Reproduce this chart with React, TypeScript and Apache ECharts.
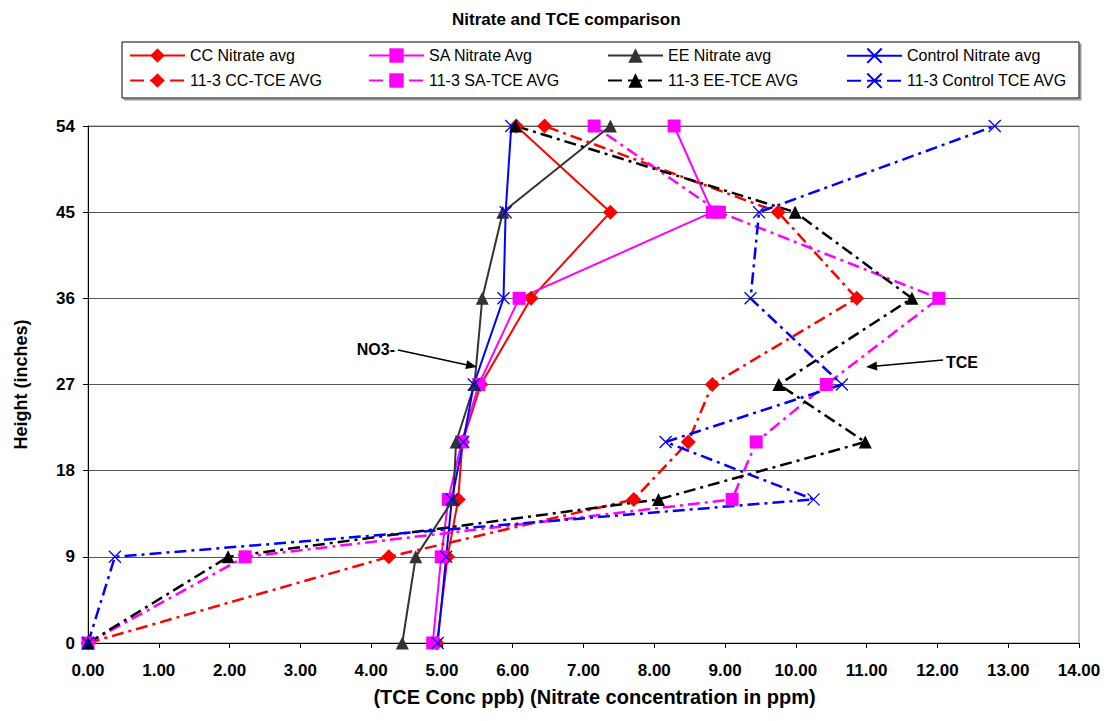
import React, { useEffect, useRef } from "react";
import * as echarts from "echarts";

// Heights (inches) at which every series was sampled
const heights = [0, 9, 15, 21, 27, 36, 45, 54];
const yTickStep = 9;
const xMin = 0;
const xMax = 14;
const yMax = 54;

// Nitrate (ppm)
const ccNitrate = [4.93, 5.08, 5.23, 5.29, 5.55, 6.26, 7.38, 6.05];
const saNitrate = [4.87, 4.99, 5.09, 5.28, 5.52, 6.09, 8.82, 8.28];
const eeNitrate = [4.44, 4.63, 5.16, 5.2, 5.46, 5.57, 5.86, 7.38];
const controlNitrate = [4.94, 5.06, 5.14, 5.3, 5.45, 5.87, 5.9, 5.98];

// TCE (ppb)
const ccTce = [0, 4.25, 7.71, 8.48, 8.82, 10.86, 9.75, 6.45];
const saTce = [0, 2.22, 9.1, 9.44, 10.43, 12.02, 8.92, 7.15];
const eeTce = [0, 1.98, 8.06, 10.98, 9.76, 11.64, 9.99, 6.04];
const controlTce = [0, 0.38, 10.25, 8.16, 10.65, 9.36, 9.48, 12.81];

const seriesNames = [
  "CC Nitrate avg",
  "SA Nitrate Avg",
  "EE Nitrate avg",
  "Control Nitrate avg",
  "11-3 CC-TCE AVG",
  "11-3 SA-TCE AVG",
  "11-3 EE-TCE AVG",
  "11-3 Control TCE AVG",
];

const FONT = "Arial, 'Liberation Sans', sans-serif";
const DASHDOT = [12, 5, 3, 5];
const X_MARK = "path://M0,0L10,10M10,0L0,10";

const pairs = (xs: number[]) => xs.map((x, i) => [x, heights[i]]);

const defs = [
  { values: ccNitrate, color: "#FF0000", symbol: "diamond", size: 15, dash: false },
  { values: saNitrate, color: "#FF00FF", symbol: "rect", size: 13, dash: false },
  { values: eeNitrate, color: "#333333", symbol: "triangle", size: 13, dash: false },
  { values: controlNitrate, color: "#0000FF", symbol: X_MARK, size: 12, dash: false },
  { values: ccTce, color: "#FF0000", symbol: "diamond", size: 15, dash: true },
  { values: saTce, color: "#FF00FF", symbol: "rect", size: 13, dash: true },
  { values: eeTce, color: "#000000", symbol: "triangle", size: 13, dash: true },
  { values: controlTce, color: "#0000FF", symbol: X_MARK, size: 12, dash: true },
];

function arrow(x1: number, y1: number, x2: number, y2: number) {
  const ang = Math.atan2(y2 - y1, x2 - x1);
  const len = 11;
  const half = 4.5;
  const bx = x2 - len * Math.cos(ang);
  const by = y2 - len * Math.sin(ang);
  const px = -Math.sin(ang) * half;
  const py = Math.cos(ang) * half;
  return [
    {
      type: "line",
      shape: { x1, y1, x2: bx, y2: by },
      style: { stroke: "#000", lineWidth: 1.5 },
      z: 10,
    },
    {
      type: "polygon",
      shape: { points: [[x2, y2], [bx + px, by + py], [bx - px, by - py]] },
      style: { fill: "#000" },
      z: 10,
    },
  ];
}

export default function App() {
  const ref = useRef<HTMLDivElement>(null);

  useEffect(() => {
    if (!ref.current) return;
    const chart = echarts.init(ref.current, undefined, { renderer: "svg" });

    const legendCols = [129, 368, 607, 846];
    const legendRows = [47.5, 72.5];

    const option: any = {
      animation: false,
      backgroundColor: "#ffffff",
      title: {
        text: "Nitrate and TCE comparison",
        left: 447,
        top: 6,
        textStyle: { fontFamily: FONT, fontWeight: "bold", fontSize: 17, color: "#000" },
      },
      legend: seriesNames.map((name, i) => {
        const lg: any = {
          data: [name],
          left: legendCols[i % 4],
          top: legendRows[Math.floor(i / 4)],
          itemWidth: 55,
          itemHeight: 18,
          padding: 0,
          selectedMode: false,
          textStyle: { fontFamily: FONT, fontSize: 16, color: "#000" },
        };
        if (defs[i].dash) lg.lineStyle = { type: [14, 6] };
        return lg;
      }),
      grid: { left: 88, right: 30, top: 126, bottom: 78, show: true, borderColor: "#888", borderWidth: 1 },
      xAxis: {
        type: "value",
        min: xMin,
        max: xMax,
        interval: 1,
        name: "(TCE Conc ppb) (Nitrate concentration in ppm)",
        nameLocation: "middle",
        nameGap: 44,
        nameTextStyle: { fontFamily: FONT, fontWeight: "bold", fontSize: 20, color: "#000", padding: [0, 0, 0, 22] },
        axisLine: { show: true, onZero: false, lineStyle: { color: "#000", width: 1 } },
        axisTick: { show: true, length: 5, lineStyle: { color: "#000" } },
        axisLabel: {
          formatter: (v: number) => v.toFixed(2),
          fontFamily: FONT,
          fontWeight: "bold",
          fontSize: 17,
          color: "#000",
          margin: 19,
        },
        splitLine: { show: false },
      },
      yAxis: {
        type: "value",
        min: 0,
        max: yMax,
        interval: yTickStep,
        name: "Height (inches)",
        nameLocation: "middle",
        nameGap: 58,
        nameTextStyle: { fontFamily: FONT, fontWeight: "bold", fontSize: 18, color: "#000" },
        axisLine: { show: true, onZero: false, lineStyle: { color: "#000", width: 1 } },
        axisTick: { show: true, length: 5, lineStyle: { color: "#000" } },
        axisLabel: { fontFamily: FONT, fontWeight: "bold", fontSize: 17, color: "#000", margin: 13 },
        splitLine: { show: true, lineStyle: { color: "#555", width: 1 } },
      },
      series: defs.map((d, i) => ({
        type: "line",
        name: seriesNames[i],
        data: pairs(d.values),
        symbol: d.symbol,
        symbolSize: d.size,
        showSymbol: true,
        clip: false,
        lineStyle: { color: d.color, width: d.dash ? 2.5 : 2, type: d.dash ? DASHDOT : "solid" },
        itemStyle: {
          color: d.color,
          borderColor: d.color,
          borderWidth: d.symbol === X_MARK ? 1.3 : 0,
        },
        emphasis: { disabled: true },
      })),
      graphic: [
        {
          type: "rect",
          shape: { x: 122, y: 42, width: 957, height: 56 },
          style: { fill: "#fff", stroke: "#000", lineWidth: 1, shadowColor: "#999", shadowOffsetX: 2, shadowOffsetY: 2, shadowBlur: 0 },
          z: -1,
        },
        {
          type: "text",
          x: 395,
          y: 349,
          style: { text: "NO3-", font: `bold 16px ${FONT}`, fill: "#000", textAlign: "right", textVerticalAlign: "middle" },
          z: 10,
        },
        ...arrow(398, 350, 477, 367),
        {
          type: "text",
          x: 946,
          y: 362,
          style: { text: "TCE", font: `bold 16px ${FONT}`, fill: "#000", textAlign: "left", textVerticalAlign: "middle" },
          z: 10,
        },
        ...arrow(943, 360, 866, 367),
      ],
    };

    chart.setOption(option);
    return () => chart.dispose();
  }, []);

  return (
    <div
      ref={ref}
      style={{ position: "fixed", left: 0, top: 0, width: 1109, height: 721, background: "#fff" }}
    />
  );
}
